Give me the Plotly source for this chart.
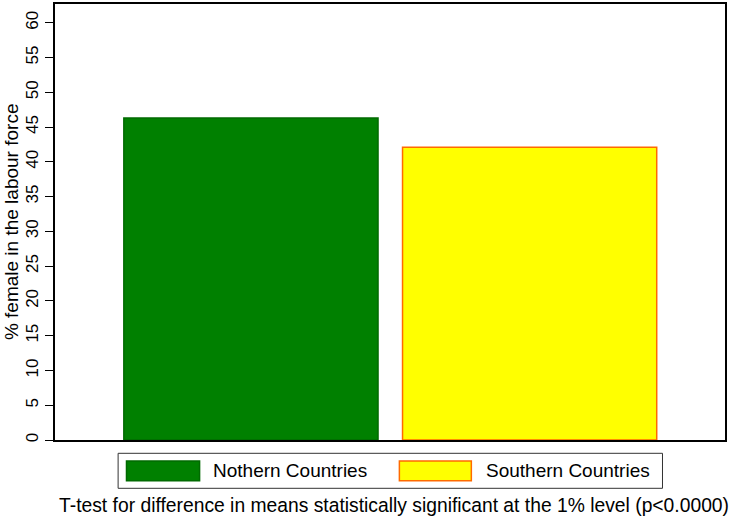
import plotly.graph_objects as go

categories = ["Nothern Countries", "Southern Countries"]
values = [46.3, 42.1]
fill_colors = ["#008000", "#FFFF00"]
line_colors = ["#006A00", "#FF6A00"]
y_ticks = list(range(0, 61, 5))
y_title = "% female in the labour force"
caption = "T-test for difference in means statistically significant at the 1% level (p<0.0000)"

FONT = "Liberation Sans, Arial, sans-serif"

fig = go.Figure()
fig.add_trace(go.Bar(
    x=categories, y=values, width=0.912,
    marker=dict(color=fill_colors, line=dict(color=line_colors, width=1.5)),
    showlegend=False, hoverinfo="x+y",
))

fig.update_layout(
    width=729, height=517,
    margin=dict(l=55, r=2, t=4, b=77),
    paper_bgcolor="white", plot_bgcolor="white",
    font=dict(family=FONT, color="black"),
    showlegend=False,
)
fig.update_xaxes(
    range=[-0.703, 1.701], showticklabels=False, ticks="",
    showgrid=False, zeroline=False,
    showline=True, linecolor="black", linewidth=1.5, mirror=True,
)
fig.update_yaxes(
    range=[0, 62.7], tickvals=y_ticks, ticktext=[str(v) for v in y_ticks],
    ticks="outside", ticklen=8, tickcolor="black", tickwidth=1,
    tickangle=-90, tickfont=dict(size=17, family=FONT),
    ticklabelstandoff=0,
    showgrid=False, zeroline=False,
    showline=True, linecolor="black", linewidth=1.5, mirror=True,
)

# y-axis title
fig.add_annotation(
    text=y_title, xref="paper", yref="paper", x=-0.0655, y=0.5,
    xanchor="center", yanchor="middle", textangle=-90, showarrow=False,
    font=dict(size=19, family=FONT),
)

# legend drawn manually (wide swatches like the original)
shapes = [
    dict(type="rect", xref="paper", yref="paper", x0=0.0942, x1=0.9067,
         y0=-0.1108, y1=-0.0305, line=dict(color="#333333", width=1),
         fillcolor="white"),
]
sw_x = [(0.1067, 0.2158), (0.514, 0.6214)]
txt_x = [0.2329, 0.6399]
for i, cat in enumerate(categories):
    shapes.append(dict(type="rect", xref="paper", yref="paper",
                       x0=sw_x[i][0], x1=sw_x[i][1], y0=-0.0933, y1=-0.0482,
                       fillcolor=fill_colors[i],
                       line=dict(color=line_colors[i], width=1.5)))
    fig.add_annotation(text=cat, xref="paper", yref="paper", x=txt_x[i],
                       y=-0.0711, xanchor="left", yanchor="middle",
                       showarrow=False, font=dict(size=19, family=FONT))
fig.update_layout(shapes=shapes)

fig.add_annotation(
    text=caption, xref="paper", yref="paper", x=1.009, y=-0.151,
    xanchor="right", yanchor="middle", showarrow=False,
    font=dict(size=19.3, family=FONT),
)

fig.write_html(
    "out.html",
    config={"displayModeBar": False},
    post_script="document.body.style.margin='0';document.body.style.overflow='hidden';",
)
